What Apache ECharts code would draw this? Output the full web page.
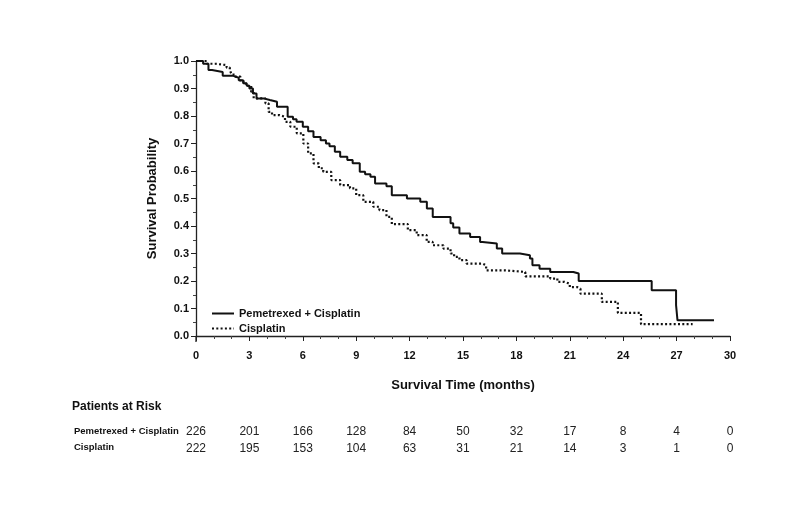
<!DOCTYPE html>
<html><head><meta charset="utf-8">
<script src="https://cdn.jsdelivr.net/npm/echarts@6/dist/echarts.min.js"></script>
<style>html,body{margin:0;padding:0;background:#fff}#c{width:788px;height:517px}</style>
</head><body><div id="c"></div>
<script>
const seriesNames = ['Pemetrexed + Cisplatin', 'Cisplatin'];
const pemTimes = [0, 0.4, 0.7, 0.9, 1.5, 2.1, 2.4, 2.65, 2.85, 3.0, 3.2, 3.4, 3.8, 4.15, 4.55, 5.15, 5.45, 5.65, 6.0, 6.3, 6.6, 7.0, 7.3, 7.5, 7.8, 8.1, 8.5, 8.8, 9.2, 9.5, 9.8, 10.06, 10.7, 11.0, 11.85, 12.6, 12.97, 13.3, 14.3, 14.45, 14.8, 15.4, 15.96, 16.1, 16.9, 17.2, 18.2, 18.76, 18.9, 19.3, 19.9, 21.2, 21.5, 25.6, 26.97, 27.05, 29.1];
const pemSurv = [1.0, 0.99, 0.967, 0.96, 0.946, 0.939, 0.93, 0.919, 0.91, 0.90, 0.882, 0.864, 0.858, 0.852, 0.834, 0.797, 0.788, 0.779, 0.761, 0.745, 0.724, 0.712, 0.70, 0.69, 0.67, 0.652, 0.64, 0.628, 0.597, 0.588, 0.579, 0.555, 0.545, 0.512, 0.50, 0.488, 0.464, 0.433, 0.41, 0.395, 0.373, 0.36, 0.342, 0.336, 0.318, 0.30, 0.294, 0.282, 0.257, 0.245, 0.233, 0.227, 0.20, 0.166, 0.112, 0.057, 0.057];
const cisTimes = [0, 0.6, 1.07, 1.72, 1.9, 2.0, 2.2, 2.5, 2.8, 3.1, 3.24, 3.9, 4.08, 4.27, 4.7, 5.0, 5.3, 5.66, 6.03, 6.3, 6.6, 6.9, 7.15, 7.6, 8.1, 8.65, 9.0, 9.4, 9.96, 10.3, 10.7, 11.0, 11.9, 12.4, 12.96, 13.3, 13.9, 14.3, 14.5, 14.8, 15.2, 16.1, 16.3, 17.3, 18.5, 19.9, 20.3, 20.7, 21.0, 21.4, 21.6, 22.8, 23.7, 25.0, 27.9];
const cisSurv = [1.0, 0.99, 0.985, 0.976, 0.967, 0.951, 0.943, 0.925, 0.91, 0.888, 0.864, 0.846, 0.815, 0.803, 0.797, 0.779, 0.761, 0.737, 0.70, 0.664, 0.628, 0.61, 0.597, 0.567, 0.549, 0.537, 0.512, 0.488, 0.47, 0.458, 0.433, 0.407, 0.385, 0.367, 0.342, 0.33, 0.318, 0.30, 0.288, 0.276, 0.263, 0.257, 0.239, 0.233, 0.217, 0.209, 0.197, 0.19, 0.178, 0.172, 0.154, 0.124, 0.084, 0.043, 0.043];
const riskTimes = [0, 3, 6, 9, 12, 15, 18, 21, 24, 27, 30];
const riskPem = [226, 201, 166, 128, 84, 50, 32, 17, 8, 4, 0];
const riskCis = [222, 195, 153, 104, 63, 31, 21, 14, 3, 1, 0];

const FONT = '"Liberation Sans", Arial, Helvetica, sans-serif';
const INK = '#111';
const zip = (a, b) => a.map((v, i) => [v, b[i]]);
const riskLabel = (arr) => (v) => { const i = riskTimes.indexOf(Math.round(v)); return i >= 0 ? String(arr[i]) : ''; };

const chart = echarts.init(document.getElementById('c'), null, { renderer: 'canvas' });
const riskAxis = (arr, off) => ({
  type: 'value', min: 0, max: 30, interval: 3, position: 'bottom', offset: off,
  axisLine: { show: false }, axisTick: { show: false }, splitLine: { show: false },
  axisLabel: { formatter: riskLabel(arr), fontFamily: FONT, fontSize: 12, color: '#222', margin: 8, showMinLabel: true, showMaxLabel: true }
});
chart.setOption({
  animation: false,
  backgroundColor: '#fff',
  grid: { left: 196, right: 58, top: 61, bottom: 181, containLabel: false },
  legend: {
    orient: 'vertical', left: 206, top: 303, itemWidth: 22, itemHeight: 10, itemGap: 4,
    itemStyle: { opacity: 0 },
    textStyle: { fontFamily: FONT, fontSize: 11, fontWeight: 'bold', color: INK },
    data: seriesNames
  },
  xAxis: [
    {
      type: 'value', min: 0, max: 30, interval: 3, position: 'bottom', offset: 6,
      name: 'Survival Time (months)', nameLocation: 'middle', nameGap: 37,
      nameTextStyle: { fontFamily: FONT, fontSize: 13, fontWeight: 'bold', color: INK },
      axisLine: { show: true, lineStyle: { color: '#222', width: 1.3 } },
      axisTick: { show: true, inside: false, length: 5, lineStyle: { color: '#222' } },
      minorTick: { show: true, splitNumber: 3, length: 3, lineStyle: { color: '#444' } },
      splitLine: { show: false },
      axisLabel: { fontFamily: FONT, fontSize: 11, fontWeight: 'bold', color: INK, margin: 8 }
    },
    riskAxis(riskPem, 82),
    riskAxis(riskCis, 99)
  ],
  yAxis: {
    type: 'value', min: 0, max: 1, interval: 0.1,
    name: 'Survival Probability', nameLocation: 'middle', nameGap: 37,
    nameTextStyle: { fontFamily: FONT, fontSize: 13, fontWeight: 'bold', color: INK },
    axisLine: { show: true, lineStyle: { color: '#222', width: 1.3 } },
    axisTick: { show: true, inside: false, length: 5, lineStyle: { color: '#222' } },
    minorTick: { show: true, splitNumber: 2, length: 3, lineStyle: { color: '#444' } },
    splitLine: { show: false },
    axisLabel: { fontFamily: FONT, fontSize: 11, fontWeight: 'bold', color: INK, margin: 7, formatter: (v) => v.toFixed(1) }
  },
  series: [
    {
      name: seriesNames[0], type: 'line', step: 'end', symbol: 'none', xAxisIndex: 0,
      data: zip(pemTimes, pemSurv),
      lineStyle: { color: INK, width: 2 }, itemStyle: { color: INK }
    },
    {
      name: seriesNames[1], type: 'line', step: 'end', symbol: 'none', xAxisIndex: 0,
      data: zip(cisTimes, cisSurv),
      lineStyle: { color: INK, width: 2.2, type: [2, 2.3], cap: 'butt' }, itemStyle: { color: INK }
    }
  ]
});

const origin = chart.convertToPixel({ gridIndex: 0 }, [0, 0]);
chart.setOption({
  graphic: [
    { type: 'line', shape: { x1: origin[0], y1: origin[1], x2: origin[0], y2: origin[1] + 6 }, style: { stroke: '#222', lineWidth: 1.3 } },
    { type: 'text', left: 72, top: 401, style: { text: 'Patients at Risk', font: 'bold 12px ' + FONT, fill: INK } },
    { type: 'text', left: 74, top: 426, style: { text: seriesNames[0], font: 'bold 9.5px ' + FONT, fill: INK } },
    { type: 'text', left: 74, top: 442, style: { text: seriesNames[1], font: 'bold 9.5px ' + FONT, fill: INK } }
  ]
});
</script>
</body></html>
